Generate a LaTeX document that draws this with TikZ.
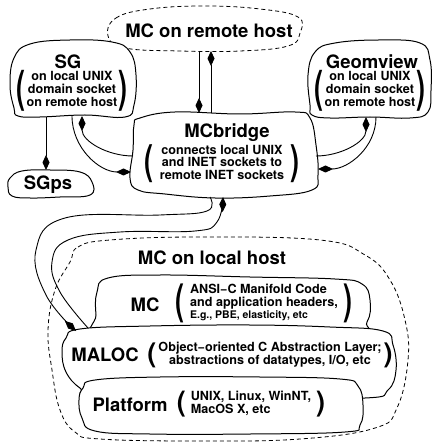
\documentclass[tikz,border=0pt]{standalone}
\usepackage{fontspec}
\setmainfont{TeX Gyre Heros}
\usepackage{graphicx}
\usepackage{tikz}
\usetikzlibrary{arrows.meta}
\tikzstyle{blob}=[draw=black, line width=1pt, fill=white]
\tikzstyle{host}=[draw=black, line width=.8pt, dash pattern=on 4pt off 3pt]
\tikzstyle{title}=[font=\bfseries\fontsize{18.5}{20}\selectfont, inner sep=0pt]
\tikzstyle{info}=[font=\bfseries\fontsize{12.6}{12}\selectfont, inner sep=0pt]
\tikzstyle{link}=[line width=.9pt, -{Diamond[length=15pt,width=7pt]}]
\newcommand{\tallparen}[2]{\vcenter{\hbox{\resizebox*{9pt}{#1}{#2}}}}
\newcommand{\bracetext}[4][c]{$\tallparen{#2}{(}\vcenter{\hbox{\begin{tabular}{@{\hspace{#3}}#1@{\hspace{#3}}}#4\end{tabular}}}\tallparen{#2}{)}$}

\begin{document}
\begin{tikzpicture}[x=1pt, y=-1pt]
    \useasboundingbox (0,0) rectangle (432,443);

    % hosts
    \draw[host] plot[smooth cycle, tension=.7] coordinates {(108,36) (116,18) (150,9) (205,6) (260,9) (298,17) (300,33) (288,46) (240,51) (180,51) (125,48)};
    \draw[host] plot[smooth cycle, tension=.7] coordinates {(70,262) (78,247) (110,240) (200,237) (320,240) (365,255) (390,280) (405,320) (408,360) (397,408) (375,428) (300,439) (200,441) (100,439) (75,432) (60,410) (52,370) (48,330) (55,290)};

    % processes
    \draw[blob] plot[smooth cycle, tension=.7] coordinates {(14,108) (10,85) (14,58) (30,44) (70,40) (112,42) (130,52) (136,75) (134,105) (125,117) (85,115) (40,117) (18,116)};
    \draw[blob] plot[smooth cycle, tension=.7] coordinates {(310,105) (308,75) (315,52) (335,43) (380,40) (420,43) (430,60) (431,90) (428,112) (410,118) (370,117) (330,118) (312,115)};
    \draw[blob] plot[smooth cycle, tension=.7] coordinates {(140,118) (175,112) (240,114) (295,112) (310,118) (316,145) (318,175) (312,190) (270,196) (215,198) (165,194) (138,190) (130,178) (133,150) (134,125)};
    \draw[blob] plot[smooth cycle, tension=.7] coordinates {(10,178) (22,171) (50,170) (80,172) (92,182) (90,195) (60,197) (30,198) (12,196) (8,187)};

    % layers
    \draw[blob] plot[smooth cycle, tension=.7] coordinates {(97,292) (108,278) (160,275) (250,277) (335,279) (362,284) (370,300) (367,322) (350,333) (200,335) (100,336) (96,315)};
    \draw[blob] plot[smooth cycle, tension=.7] coordinates {(66,338) (80,329) (150,326) (250,325) (330,327) (383,331) (393,345) (396,370) (388,390) (365,398) (250,397) (100,396) (80,388) (66,372) (62,352)};
    \draw[blob] plot[smooth cycle, tension=.7] coordinates {(83,388) (95,380) (160,377) (260,377) (340,379) (358,386) (363,405) (360,425) (345,432) (250,434) (150,434) (95,431) (82,418) (79,400)};

    \node[title] (remote) at (209,31) {MC on remote host};
    \node[title] (sg) at (68,62) {SG};
    \node[info] (sgnote) at (72,91) {\bracetext{41pt}{1.5pt}{on local UNIX\\domain socket\\on remote host}};
    \node[title] (geom) at (372,62) {Geomview};
    \node[info] (geomnote) at (370,91) {\bracetext{41pt}{1.5pt}{on local UNIX\\domain socket\\on remote host}};
    \node[title] (bridge) at (227,133) {MCbridge};
    \node[info] (bridgenote) at (222,164) {\bracetext{38pt}{6pt}{connects local UNIX\\and INET sockets to\\remote INET sockets}};
    \node[title] (sgps) at (48,185) {SGps};

    \node[title] (local) at (212,258) {MC on local host};
    \node[title] (mc) at (145,305) {MC};
    \node[info] (mcnote) at (264,303) {\bracetext[l]{39pt}{6pt}{ANSI−C Manifold Code\\and application headers,\\{\fontsize{10.5}{11}\selectfont E.g., PBE, elasticity, etc}}};
    \node[title] (maloc) at (105,355) {MALOC};
    \node[info] (malocnote) at (270,355) {\bracetext{25pt}{2pt}{Object−oriented C Abstraction Layer;\\abstractions of datatypes, I/O, etc}};
    \node[title] (platform) at (130,405) {Platform};
    \node[info] (platformnote) at (251,404) {\bracetext[l]{26pt}{5pt}{UNIX, Linux, WinNT,\\MacOS X, etc}};

    % ends of the connectors
    \coordinate (rem-s1) at (199,51);
    \coordinate (rem-s2) at (211,51);
    \coordinate (br-n1) at (199,113);
    \coordinate (br-n2) at (211,113);
    \coordinate (sg-s1) at (46,117);
    \coordinate (sg-s2) at (82,116);
    \coordinate (sg-s3) at (72,116);
    \coordinate (ps-n) at (46,170);
    \coordinate (br-w1) at (133,156);
    \coordinate (br-w2) at (131,172);
    \coordinate (gv-s1) at (366,117);
    \coordinate (gv-s2) at (376,117);
    \coordinate (br-e1) at (316,156);
    \coordinate (br-e2) at (318,169);
    \coordinate (br-s1) at (210,197);
    \coordinate (br-s2) at (223,197);
    \coordinate (ma-n1) at (76,331);
    \coordinate (ma-n2) at (88,328);

    \foreach \from/\to in {rem-s1/br-n1, br-n2/rem-s2, sg-s1/ps-n}
      \draw[link] (\from) -- (\to);

    \draw[link] (br-w1) to[out=180, in=-90] (sg-s2);
    \draw[link] (sg-s3) to[out=-90, in=180] (br-w2);
    \draw[link] (br-e1) to[out=0, in=-90] (gv-s1);
    \draw[link] (gv-s2) to[out=-90, in=0] (br-e2);
    \draw[link] plot[smooth, tension=.7] coordinates {(br-s1) (207,211) (160,215) (65,218) (36,250) (46,295) (ma-n1)};
    \draw[link] plot[smooth, tension=.7] coordinates {(ma-n2) (60,292) (52,262) (68,240) (120,232) (195,231) (217,222) (br-s2)};
  \end{tikzpicture}
\end{document}
